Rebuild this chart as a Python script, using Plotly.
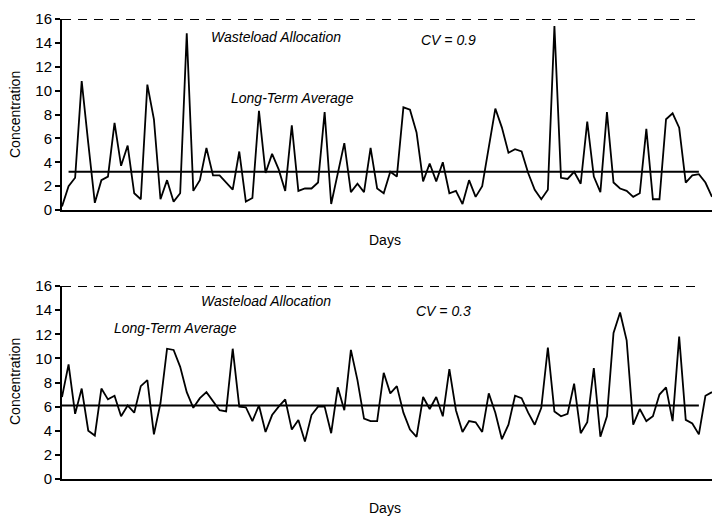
import plotly.graph_objects as go

# ---- data ----
top_values = [0.3, 2.0, 2.7, 10.8, 5.6, 0.6, 2.5, 2.8, 7.3, 3.7, 5.4, 1.4, 0.9, 10.5, 7.6, 0.9,
              2.5, 0.7, 1.4, 14.8, 1.6, 2.5, 5.2, 2.9, 2.9, 2.3, 1.7, 4.9, 0.7, 1.0, 8.3, 3.1,
              4.7, 3.4, 1.6, 7.1, 1.6, 1.8, 1.8, 2.3, 8.2, 0.5, 3.1, 5.6, 1.5, 2.2, 1.5, 5.2,
              1.8, 1.4, 3.2, 2.8, 8.6, 8.4, 6.5, 2.4, 3.9, 2.4, 4.0, 1.4, 1.6, 0.5, 2.5, 1.1,
              2.0, 5.1, 8.5, 6.9, 4.8, 5.1, 4.9, 3.1, 1.7, 0.9, 1.7, 15.4, 2.7, 2.6, 3.2, 2.2,
              7.4, 2.8, 1.5, 8.2, 2.3, 1.8, 1.6, 1.1, 1.4, 6.8, 0.9, 0.9, 7.6, 8.1, 6.9, 2.3,
              2.9, 3.0, 2.3, 1.1]
bottom_values = [6.8, 9.5, 5.4, 7.5, 4.0, 3.6, 7.5, 6.6, 6.9, 5.2, 6.1, 5.5, 7.7, 8.2, 3.7, 6.3,
                 10.8, 10.7, 9.3, 7.2, 5.9, 6.7, 7.2, 6.4, 5.7, 5.6, 10.8, 6.0,
                 5.95, 4.8, 6.1, 3.9, 5.3, 6.0, 6.6, 4.1, 4.9, 3.1, 5.3, 6.0, 6.0, 3.8, 7.6, 5.7,
                 10.7, 8.2, 5.0, 4.8, 4.8, 8.8, 7.1, 7.7, 5.5, 4.1, 3.5, 6.8, 5.8, 6.8, 5.2, 9.1,
                 5.7, 3.9, 4.8,
                 4.7, 3.9, 7.1, 5.5, 3.3, 4.5, 6.9, 6.7, 5.5, 4.5, 5.9, 10.9, 5.6, 5.2, 5.4, 7.9,
                 3.8, 4.7, 9.2, 3.5, 5.2, 12.1, 13.8, 11.5, 4.5, 5.8, 4.8, 5.2, 7.0, 7.6, 4.8,
                 11.8, 4.9, 4.6, 3.7, 6.9, 7.2]
top_days = list(range(len(top_values)))
bottom_days = list(range(len(bottom_values)))

top_average = 3.2
bottom_average = 6.1
wasteload_allocation = 16
y_ticks = [0, 2, 4, 6, 8, 10, 12, 14, 16]
top_cv_label = "CV = 0.9"
bottom_cv_label = "CV = 0.3"

FONT = "Liberation Sans, Arial, Helvetica, sans-serif"
BLACK = "#000000"

fig = go.Figure()

# top panel
fig.add_trace(go.Scatter(x=top_days, y=top_values, mode="lines",
                         line=dict(color=BLACK, width=1.8), xaxis="x", yaxis="y",
                         showlegend=False, hoverinfo="skip"))
fig.add_trace(go.Scatter(x=[top_days[1], top_days[-3]], y=[top_average] * 2, mode="lines",
                         line=dict(color=BLACK, width=2), xaxis="x", yaxis="y",
                         showlegend=False, hoverinfo="skip"))
fig.add_trace(go.Scatter(x=[top_days[0], top_days[-3]], y=[wasteload_allocation] * 2, mode="lines",
                         line=dict(color=BLACK, width=1.8, dash="9px,7px"), xaxis="x", yaxis="y",
                         showlegend=False, hoverinfo="skip", cliponaxis=False))

# bottom panel
fig.add_trace(go.Scatter(x=bottom_days, y=bottom_values, mode="lines",
                         line=dict(color=BLACK, width=1.8), xaxis="x2", yaxis="y2",
                         showlegend=False, hoverinfo="skip"))
fig.add_trace(go.Scatter(x=[bottom_days[0], bottom_days[-3]], y=[bottom_average] * 2, mode="lines",
                         line=dict(color=BLACK, width=2), xaxis="x2", yaxis="y2",
                         showlegend=False, hoverinfo="skip"))
fig.add_trace(go.Scatter(x=[bottom_days[0], bottom_days[-3]], y=[wasteload_allocation] * 2, mode="lines",
                         line=dict(color=BLACK, width=1.8, dash="9px,7px"), xaxis="x2", yaxis="y2",
                         showlegend=False, hoverinfo="skip", cliponaxis=False))

H = 519.0
def frac(px_from_top):
    return (H - px_from_top) / H

xaxis_common = dict(showgrid=False, zeroline=False, showticklabels=False, ticks="",
                    showline=True, linecolor=BLACK, linewidth=2, fixedrange=True)
yaxis_common = dict(range=[0, 16], tickvals=y_ticks, showgrid=False, zeroline=False,
                    showline=True, linecolor=BLACK, linewidth=2, ticks="outside",
                    ticklen=5, tickwidth=1.5, tickcolor=BLACK,
                    tickfont=dict(family=FONT, size=15, color=BLACK), fixedrange=True)

ann_font = dict(family=FONT, size=14, color=BLACK)
it_font = dict(family=FONT, size=14, color=BLACK)

def paper_x(px):
    return (px - 62) / (712 - 62)

annotations = [
    dict(text="<i>Wasteload Allocation</i>", x=paper_x(209), y=frac(37), xanchor="left", yanchor="middle",
         xref="paper", yref="paper", showarrow=False, font=it_font),
    dict(text="<i>" + top_cv_label + "</i>", x=paper_x(419), y=frac(40), xanchor="left", yanchor="middle",
         xref="paper", yref="paper", showarrow=False, font=it_font),
    dict(text="<i>Long-Term Average</i>", x=paper_x(229), y=frac(98), xanchor="left", yanchor="middle",
         xref="paper", yref="paper", showarrow=False, font=it_font),
    dict(text="<i>Wasteload Allocation</i>", x=paper_x(199), y=frac(301), xanchor="left", yanchor="middle",
         xref="paper", yref="paper", showarrow=False, font=it_font),
    dict(text="<i>" + bottom_cv_label + "</i>", x=paper_x(414), y=frac(311), xanchor="left", yanchor="middle",
         xref="paper", yref="paper", showarrow=False, font=it_font),
    dict(text="<i>Long-Term Average</i>", x=paper_x(112), y=frac(328), xanchor="left", yanchor="middle",
         xref="paper", yref="paper", showarrow=False, font=it_font),
    dict(text="Days", x=paper_x(385), y=frac(240), xanchor="center", yanchor="middle",
         xref="paper", yref="paper", showarrow=False, font=ann_font),
    dict(text="Days", x=paper_x(385), y=frac(508), xanchor="center", yanchor="middle",
         xref="paper", yref="paper", showarrow=False, font=ann_font),
    dict(text="Concentration", x=paper_x(15), y=frac(115), xanchor="center", yanchor="middle",
         xref="paper", yref="paper", showarrow=False, font=ann_font, textangle=-90),
    dict(text="Concentration", x=paper_x(15), y=frac(382), xanchor="center", yanchor="middle",
         xref="paper", yref="paper", showarrow=False, font=ann_font, textangle=-90),
]

fig.update_layout(
    width=712, height=519,
    margin=dict(l=62, r=0, t=0, b=0, autoexpand=False),
    paper_bgcolor="white", plot_bgcolor="white",
    xaxis=dict(xaxis_common, domain=[0, 1], range=[0, len(top_values) - 1], anchor="y"),
    yaxis=dict(yaxis_common, domain=[frac(210), frac(19)], anchor="x"),
    xaxis2=dict(xaxis_common, domain=[0, 1], range=[0, len(bottom_values) - 1], anchor="y2"),
    yaxis2=dict(yaxis_common, domain=[frac(479), frac(286)], anchor="x2"),
    annotations=annotations,
    showlegend=False,
)

fig.write_html("out.html", config={"displayModeBar": False},
               post_script="document.body.style.margin='0';document.body.style.overflow='hidden';")
